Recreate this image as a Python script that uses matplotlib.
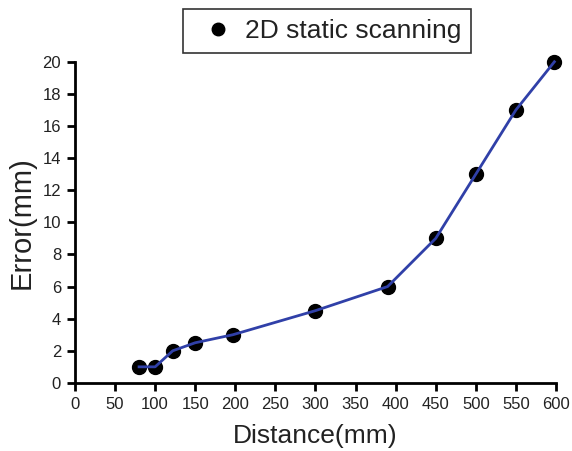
import matplotlib.pyplot as plt
from matplotlib.lines import Line2D

# data
distance = [80, 100, 122, 150, 197, 300, 390, 450, 500, 550, 598]
error = [1, 1, 2, 2.5, 3, 4.5, 6, 9, 13, 17, 20]
xticks = list(range(0, 601, 50))
yticks = list(range(0, 21, 2))

plt.rcParams['font.family'] = ['Liberation Sans', 'DejaVu Sans']

fig = plt.figure(figsize=(5.72, 4.51), dpi=100)
ax = fig.add_axes([0.131, 0.151, 0.841, 0.712])

ax.plot(distance, error, 'o', color='black', markersize=10, zorder=2, clip_on=False)
ax.plot(distance, error, '-', color='#3040a8', linewidth=2, zorder=3, clip_on=False)

ax.set_xlim(0, 600)
ax.set_ylim(0, 20)
ax.set_xticks(xticks)
ax.set_yticks(yticks)
for side in ['top', 'right']:
    ax.spines[side].set_visible(False)
for side in ['left', 'bottom']:
    ax.spines[side].set_linewidth(2)
ax.tick_params(width=2, length=6, labelsize=12, pad=4, labelcolor='#222222')

ax.set_xlabel('Distance(mm)', fontsize=19, labelpad=9, color='#222222')
ax.set_ylabel('Error(mm)', fontsize=21, labelpad=5, color='#222222')

handle = Line2D([], [], marker='o', color='black', linestyle='none', markersize=9)
leg = fig.legend([handle], ['2D static scanning'], loc='center',
                 bbox_to_anchor=(0.572, 0.931), fontsize=19, frameon=True,
                 fancybox=False, edgecolor='black', borderpad=0.38,
                 handletextpad=0.05, handlelength=1.9)
leg.get_frame().set_linewidth(1.2)
for t in leg.get_texts():
    t.set_color('#222222')

fig.savefig('out.png', dpi=100)
